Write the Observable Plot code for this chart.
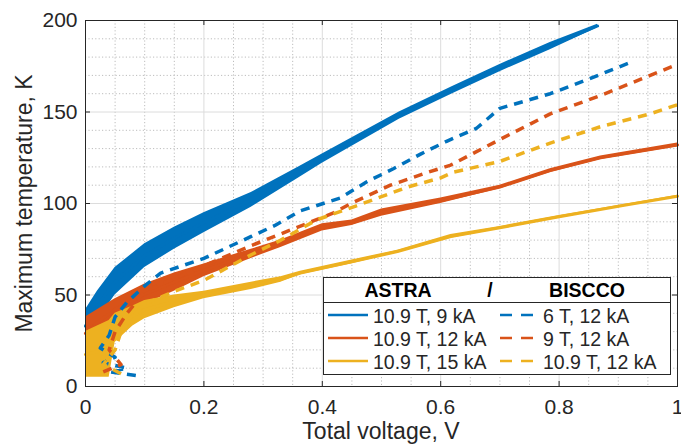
<!DOCTYPE html>
<html><head><meta charset="utf-8">
<script src="https://cdn.jsdelivr.net/npm/d3@7"></script>
<script src="https://cdn.jsdelivr.net/npm/@observablehq/plot@0.6"></script>
<style>
body{margin:0;background:#fff;}
#wrap{position:relative;width:681px;height:448px;overflow:hidden;font-family:"Liberation Sans",Arial,Helvetica,sans-serif;color:#262626;}
#wrap svg.plot{position:absolute;left:0;top:0;}
.lab{position:absolute;white-space:nowrap;text-align:center;line-height:1;font-size:23px;color:#262626;}
</style></head><body><div id="wrap"></div>
<script>
// ---- axis ticks ----
const xMajor = [0, 0.2, 0.4, 0.6, 0.8, 1];
const xTickLabels = ["0", "0.2", "0.4", "0.6", "0.8", "1"];
const yMajor = [0, 50, 100, 150, 200];
const yTickLabels = ["0", "50", "100", "150", "200"];
const xMinor = [0.05, 0.1, 0.15, 0.25, 0.3, 0.35, 0.45, 0.5, 0.55, 0.65, 0.7, 0.75, 0.85, 0.9, 0.95];
const yMinor = [10, 20, 30, 40, 60, 70, 80, 90, 110, 120, 130, 140, 160, 170, 180, 190];

// ---- series names / colours ----
const seriesNames = ["10.9 T, 9 kA", "10.9 T, 12 kA", "10.9 T, 15 kA", "6 T, 12 kA", "9 T, 12 kA", "10.9 T, 12 kA"];
const seriesColors = ["#0072BD", "#D95319", "#EDB120", "#0072BD", "#D95319", "#EDB120"];

// ---- ASTRA 10.9 T, 9 kA (solid, noisy band) ----
const astra9_x  = [0, 0.02, 0.05, 0.1, 0.15, 0.2, 0.28, 0.36, 0.4, 0.53, 0.62, 0.7, 0.785, 0.865];
const astra9_lo = [24, 36, 50, 65, 75, 84, 98, 114, 122, 146, 160, 172, 184, 196];
const astra9_hi = [42, 52, 65, 78, 87, 95, 106, 120, 127, 150, 164, 176, 188, 198];

// ---- ASTRA 10.9 T, 12 kA ----
const astra12_x  = [0, 0.02, 0.05, 0.1, 0.15, 0.2, 0.28, 0.33, 0.4, 0.45, 0.5, 0.6, 0.7, 0.785, 0.87, 1.0];
const astra12_lo = [20, 28, 36, 45, 52, 60, 70, 76, 85, 88, 93, 100, 108, 117, 124, 131];
const astra12_hi = [38, 42, 48, 56, 62, 67, 75, 80, 89, 91, 97, 103, 110, 119, 126, 133];

// ---- ASTRA 10.9 T, 15 kA ----
const astra15_x  = [0, 0.04, 0.05, 0.08, 0.1, 0.15, 0.2, 0.28, 0.33, 0.363, 0.448, 0.527, 0.617, 0.7, 0.8, 0.91, 1.0];
const astra15_lo = [5, 5, 24, 33, 37, 43, 48, 53, 57, 61, 67, 73, 81, 86, 92, 98.5, 103.5];
const astra15_hi = [30, 36, 40, 44, 47, 50, 52, 57, 60, 63, 69, 74.5, 83, 87.5, 93.5, 99.5, 104.5];

// ---- BISCCO 6 T, 12 kA (dashed) ----
const bis6_x = [0.085, 0.04, 0.07, 0.03, 0.05, 0.025, 0.04, 0.05, 0.07, 0.1, 0.127, 0.2, 0.28, 0.32, 0.363, 0.43, 0.476, 0.52, 0.566, 0.61, 0.66, 0.7, 0.785, 0.85, 0.92];
const bis6_y = [6, 8, 10, 13, 16, 21, 28, 38, 46, 55, 62, 70, 82, 88, 96, 103, 112, 119, 127, 134, 141, 152, 160, 168, 177];

// ---- BISCCO 9 T, 12 kA ----
const bis9_x = [0.03, 0.06, 0.04, 0.05, 0.07, 0.1, 0.15, 0.2, 0.28, 0.35, 0.42, 0.448, 0.515, 0.578, 0.617, 0.7, 0.785, 0.87, 0.954, 1.0];
const bis9_y = [8, 12, 20, 30, 40, 52, 59, 66, 77, 86, 95, 100, 110, 117, 121, 135, 149, 159, 170, 176];

// ---- BISCCO 10.9 T, 12 kA ----
const bis109_x = [0.06, 0.03, 0.05, 0.06, 0.08, 0.1, 0.15, 0.2, 0.28, 0.33, 0.39, 0.46, 0.544, 0.6, 0.62, 0.7, 0.785, 0.87, 0.954, 1.0];
const bis109_y = [7, 12, 20, 30, 38, 45, 52, 58, 72, 80, 91, 99, 109, 114, 117, 123, 133, 142, 149, 154];

// ---- build tables ----
function bandRows(xs, lo, hi) { return xs.map((x, i) => ({x, lo: lo[i], hi: hi[i], mid: (lo[i] + hi[i]) / 2})); }
function lineRows(xs, ys) { return xs.map((x, i) => ({x, y: ys[i]})); }
const solids = [
  bandRows(astra9_x, astra9_lo, astra9_hi),
  bandRows(astra12_x, astra12_lo, astra12_hi),
  bandRows(astra15_x, astra15_lo, astra15_hi)
];
const dashes = [lineRows(bis6_x, bis6_y), lineRows(bis9_x, bis9_y), lineRows(bis109_x, bis109_y)];

const W = 681, H = 448;
const marks = [
  Plot.ruleX(xMinor, {stroke: "#bdbdbd", strokeDasharray: "1.2,2.2", strokeWidth: 1}),
  Plot.ruleY(yMinor, {stroke: "#bdbdbd", strokeDasharray: "1.2,2.2", strokeWidth: 1}),
  Plot.ruleX(xMajor.slice(1, -1), {stroke: "#dcdcdc", strokeWidth: 1}),
  Plot.ruleY(yMajor.slice(1, -1), {stroke: "#dcdcdc", strokeWidth: 1})
];
solids.forEach((rows, i) => {
  marks.push(Plot.areaY(rows, {x: "x", y1: "lo", y2: "hi", fill: seriesColors[i], fillOpacity: 1}));
  marks.push(Plot.line(rows, {x: "x", y: "mid", stroke: seriesColors[i], strokeWidth: 3}));
});
dashes.forEach((rows, i) => {
  marks.push(Plot.line(rows, {x: "x", y: "y", stroke: seriesColors[i + 3], strokeWidth: 3.5, strokeDasharray: "9,7", strokeLinecap: "butt"}));
});
marks.push(
  Plot.frame({stroke: "#262626", strokeWidth: 1}),
  Plot.tickX(xMajor, {x: d => d, stroke: "#262626", insetTop: 361}),
  Plot.tickX(xMajor, {x: d => d, stroke: "#262626", insetBottom: 361}),
  Plot.tickY(yMajor, {y: d => d, stroke: "#262626", insetRight: 587}),
  Plot.tickY(yMajor, {y: d => d, stroke: "#262626", insetLeft: 587}),
  Plot.axisX({ticks: xMajor, tickFormat: d => xTickLabels[xMajor.indexOf(d)], tickSize: 0, tickPadding: 13, label: null}),
  Plot.axisY({ticks: yMajor, tickFormat: d => yTickLabels[yMajor.indexOf(d)], tickSize: 0, tickPadding: 8, label: null})
);

const chart = Plot.plot({
  width: W, height: H,
  marginLeft: 85, marginRight: 4, marginTop: 20, marginBottom: 62,
  x: {domain: [0, 1]},
  y: {domain: [0, 200]},
  style: {fontSize: "21px", fontFamily: '"Liberation Sans", Arial, sans-serif', color: "#262626", background: "white", overflow: "hidden"},
  marks
});
chart.classList.add("plot");
const wrap = document.getElementById("wrap");
wrap.appendChild(chart);

// axis labels
const xl = document.createElement("div");
xl.className = "lab"; xl.textContent = "Total voltage, V";
xl.style.left = "181px"; xl.style.width = "400px"; xl.style.top = "420px";
wrap.appendChild(xl);
const yl = document.createElement("div");
yl.className = "lab"; yl.textContent = "Maximum temperature, K";
yl.style.left = (24 - 200) + "px"; yl.style.width = "400px"; yl.style.top = (203 - 11.5) + "px";
yl.style.transform = "rotate(-90deg)";
wrap.appendChild(yl);

// legend
const legendHeader = ["ASTRA", "/", "BISCCO"];
const ns = "http://www.w3.org/2000/svg";
const lg = document.createElementNS(ns, "svg");
lg.setAttribute("id", "legend");
lg.setAttribute("width", 349); lg.setAttribute("height", 99);
lg.style.position = "absolute"; lg.style.left = "323px"; lg.style.top = "277px";
lg.style.fontFamily = '"Liberation Sans", Arial, sans-serif';
function el(tag, attrs, text) {
  const e = document.createElementNS(ns, tag);
  for (const k in attrs) e.setAttribute(k, attrs[k]);
  if (text != null) e.textContent = text;
  lg.appendChild(e); return e;
}
el("rect", {x: 0.5, y: 0.5, width: 347, height: 97, fill: "white", stroke: "#262626", "stroke-width": 1});
el("line", {x1: 0, x2: 348, y1: 25.5, y2: 25.5, stroke: "#262626", "stroke-width": 1});
const hx = [75, 167, 264];
legendHeader.forEach((t, i) => el("text", {x: hx[i], y: 20, "text-anchor": "middle", "font-size": "19.5px", "font-weight": "bold", fill: "#000"}, t));
const rowY = [38, 61, 84];
for (let r = 0; r < 3; r++) {
  el("line", {x1: 5, x2: 45, y1: rowY[r], y2: rowY[r], stroke: seriesColors[r], "stroke-width": 2.5});
  el("text", {x: 50, y: rowY[r] + 7.5, "font-size": "19.5px", fill: "#262626"}, seriesNames[r]);
  el("line", {x1: 177, x2: 211, y1: rowY[r], y2: rowY[r], stroke: seriesColors[r + 3], "stroke-width": 2.5, "stroke-dasharray": "12,9"});
  el("text", {x: 220, y: rowY[r] + 7.5, "font-size": "19.5px", fill: "#262626"}, seriesNames[r + 3]);
}
wrap.appendChild(lg);
</script>
</body></html>
